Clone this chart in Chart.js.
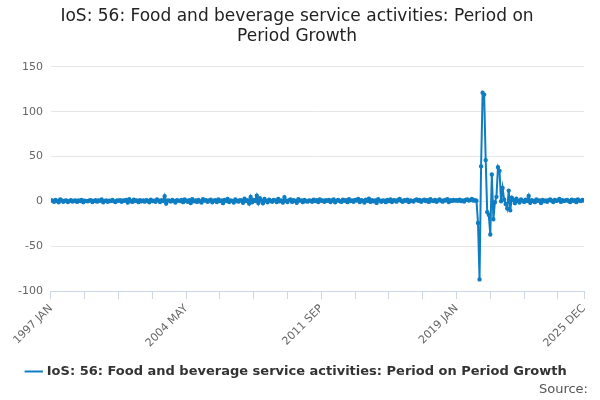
<!DOCTYPE html>
<html><head><meta charset="utf-8">
<script src="https://cdn.jsdelivr.net/npm/chart.js@4/dist/chart.umd.min.js"></script>
<style>html,body{margin:0;padding:0;background:#fff}#w{position:relative;width:600px;height:400px}</style>
</head><body><div id="w"><canvas id="c" width="600" height="400"></canvas>
<div style="position:absolute;right:12px;bottom:4px;font:13px 'DejaVu Sans';color:#555">Source:</div></div>
<script>
const startYear = 1997;
const tickLabels = ["1997 JAN","2004 MAY","2011 SEP","2019 JAN","2025 DEC"];
const values = [
 1.2,0.8,-0.5,1.5,0.3,-1.0,2.1,0.9,-0.4,0.6,1.1,-0.8,
 0.5,1.3,-0.2,0.7,0.9,-0.6,1.0,0.4,1.6,-0.9,0.8,0.3,
 0.2,1.0,1.4,-0.7,0.5,1.2,-0.3,0.9,0.6,2.0,-1.1,0.4,
 1.1,-0.5,0.8,0.3,1.7,0.2,-0.8,1.0,0.6,1.3,-0.4,0.9,
 0.7,1.5,-1.2,2.3,0.4,-0.6,1.8,0.5,1.0,-0.9,1.4,0.2,
 0.9,-0.3,1.2,0.6,-1.0,1.9,0.3,0.8,-0.5,2.2,1.0,-0.7,
 1.3,0.4,5.8,-2.4,1.1,0.7,-0.2,1.6,0.5,-1.3,1.2,0.8,
 0.3,1.7,-0.9,2.0,0.6,-0.4,1.4,-1.8,2.5,0.2,1.0,-0.6,
 1.5,0.1,-1.2,2.4,0.8,1.3,-0.5,0.9,1.8,-1.0,0.6,1.2,
 -0.7,2.1,0.4,1.0,-2.0,1.6,0.3,2.7,-0.8,1.1,0.5,-1.4,
 2.2,0.6,-0.3,1.3,0.9,-1.6,3.0,0.4,1.2,-2.5,4.8,-1.0,
 1.7,0.3,6.2,-1.9,3.4,0.8,-2.2,2.6,0.5,-1.0,1.9,0.7,
 -0.4,1.5,0.9,-0.8,2.8,0.2,1.1,-1.3,4.5,0.6,-0.7,1.4,
 2.0,-0.6,1.2,0.5,-1.5,2.3,0.8,1.0,-0.9,1.6,0.4,-0.3,
 1.1,0.7,-0.5,1.8,0.3,1.2,-0.8,2.1,0.6,0.9,-0.4,1.3,
 0.5,1.6,-0.7,1.0,2.2,-1.1,0.8,1.5,0.3,-0.6,1.9,0.7,
 1.2,-0.9,2.4,0.4,1.0,-0.5,1.7,0.9,2.6,-0.8,1.3,0.6,
 -1.2,1.8,0.5,2.9,-0.6,1.4,0.2,1.1,-1.7,2.3,0.8,-0.4,
 1.0,0.6,-0.9,1.5,0.3,2.0,-0.7,1.2,0.9,-0.3,1.6,2.8,
 0.4,-0.5,1.3,0.7,1.9,-0.8,1.1,0.5,-0.2,1.4,2.2,0.6,
 1.5,-0.4,0.9,1.8,0.3,1.2,-0.6,2.5,0.8,0.4,1.7,-0.5,
 1.0,2.1,0.6,-0.3,1.4,0.9,2.3,-0.7,1.2,0.5,1.6,0.8,
 1.3,0.7,1.9,0.4,1.1,-0.2,1.6,2.0,0.9,1.4,2.6,1.0,
 1.2,0.8,-24,-87,39,121,119,46,-12,-15,-37,30,
 -20,-1,5,38,34,0,15,2,-3,-8,12,-10,
 4,1.5,-2.0,3.0,0.5,-1.2,2.2,0.8,-0.6,1.9,0.3,6.0,
 -1.5,1.2,0.4,-0.9,2.1,0.6,1.0,-1.8,1.5,0.2,0.9,-0.4,
 1.3,2.2,0.7,-0.8,1.6,0.5,1.1,2.8,-0.6,1.4,0.3,0.9,
 1.6,0.4,-0.7,1.8,0.6,1.2,-0.9,2.0,0.8,0.3,1.5,1.0
];
const labels = values.map((v,i)=>{const m=["JAN","FEB","MAR","APR","MAY","JUN","JUL","AUG","SEP","OCT","NOV","DEC"];return (startYear+Math.floor(i/12))+" "+m[i%12];});
const pts = values.map((v,i)=>({x:i,y:v}));
const blue = '#0f7dc2';
new Chart(document.getElementById('c'),{
 type:'line',
 data:{datasets:[{label:'IoS: 56: Food and beverage service activities: Period on Period Growth',data:pts,borderColor:blue,backgroundColor:blue,borderWidth:2,pointRadius:1.2,pointHoverRadius:2,tension:0}]},
 options:{responsive:false,animation:false,
  layout:{padding:{left:10,right:16,bottom:12,top:0}},
  plugins:{
   title:{display:true,text:['IoS: 56: Food and beverage service activities: Period on','Period Growth'],font:{family:'DejaVu Sans',size:17,weight:'normal'},color:'#222',padding:{top:6,bottom:20}},
   legend:{position:'bottom',labels:{usePointStyle:true,pointStyle:'line',font:{family:'DejaVu Sans',size:13,weight:'bold'},color:'#333',boxWidth:20,padding:12}},
   tooltip:{enabled:false}},
  scales:{
   x:{type:'linear',min:0,max:values.length-1,
    afterBuildTicks:a=>{const t=[];for(let i=0;i<values.length-1;i+=22)t.push({value:i});t.push({value:values.length-1});a.ticks=t;},
    ticks:{autoSkip:false,maxRotation:45,minRotation:45,font:{family:'DejaVu Sans',size:11},color:'#666',
     callback:(v)=>{if(v===values.length-1)return tickLabels[4];if(v%88===0)return labels[v];return '';}},
    grid:{drawOnChartArea:false,color:'#ccd6eb',tickLength:8},border:{color:'#ccd6eb'}},
   y:{min:-100,max:150,ticks:{stepSize:50,font:{family:'DejaVu Sans',size:11},color:'#666',padding:8},
    grid:{color:'#e6e6e6',drawTicks:false},border:{display:false}}
  }}
});
</script></body></html>
